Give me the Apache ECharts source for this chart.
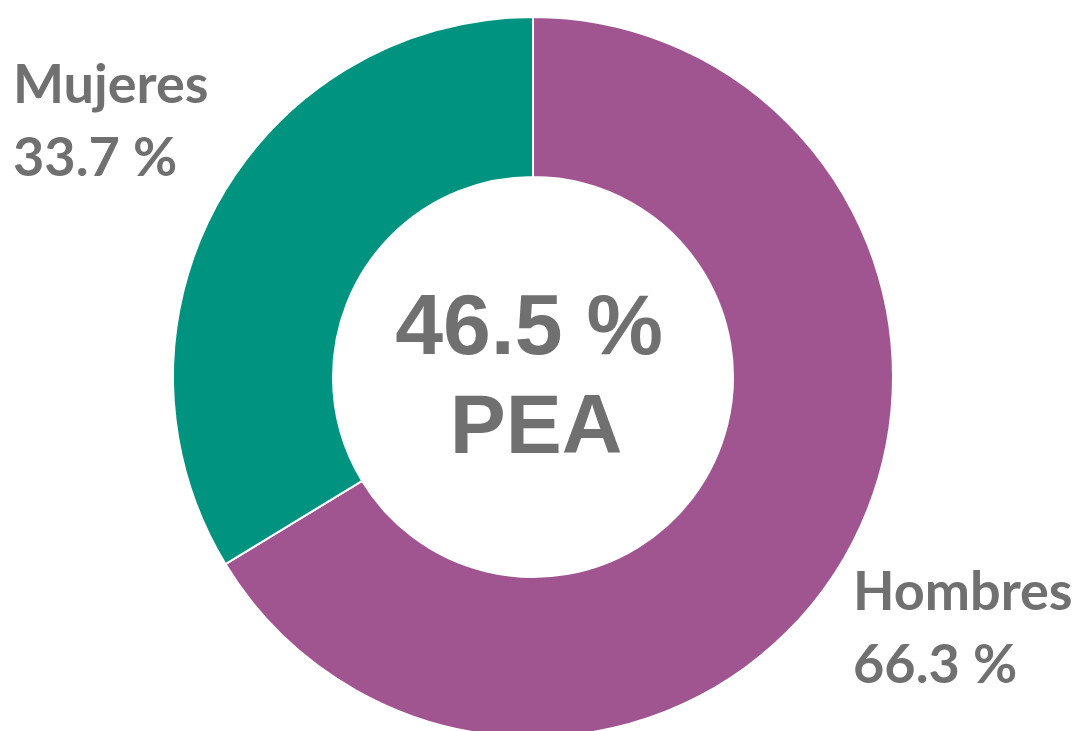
<!DOCTYPE html>
<html>
<head>
<meta charset="utf-8">
<script src="https://cdn.jsdelivr.net/npm/echarts@6/dist/echarts.min.js"></script>
<style>
html,body{margin:0;padding:0;background:#fff;}
#chart{width:1079px;height:731px;}
</style>
</head>
<body>
<div id="chart"></div>
<script>
const categories = ['Hombres', 'Mujeres'];
const shares = [66.3, 33.7];
const sliceColors = ['#A05591', '#009480'];
const centerValue = '46.5 %';
const centerLabel = 'PEA';

const labelPos = [
  {x: 853, y: 556},
  {x: 13, y: 49}
];

const chart = echarts.init(document.getElementById('chart'), null, {renderer: 'canvas'});
chart.setOption({
  animation: false,
  backgroundColor: '#ffffff',
  graphic: [
    {
      type: 'text',
      style: {
        text: centerValue,
        x: 529, y: 280,
        fill: '#707070',
        font: 'bold 86px "Liberation Sans", Arial, sans-serif',
        align: 'center',
        verticalAlign: 'top',
        lineHeight: 100
      }
    },
    {
      type: 'text',
      style: {
        text: centerLabel,
        x: 536, y: 380,
        fill: '#707070',
        font: 'bold 84px "Liberation Sans", Arial, sans-serif',
        align: 'center',
        verticalAlign: 'top',
        lineHeight: 100
      }
    }
  ],
  series: [{
    type: 'pie',
    center: [533, 377],
    radius: [200, 360],
    startAngle: 90,
    clockwise: true,
    itemStyle: {borderColor: '#ffffff', borderWidth: 2},
    label: {
      show: true,
      position: 'outside',
      formatter: '{b}\n{c} %',
      color: '#707070',
      fontFamily: 'Lato',
      fontWeight: 'bold',
      fontSize: 54,
      lineHeight: 73,
      align: 'left',
      overflow: 'none',
      width: 400
    },
    labelLine: {show: false},
    labelLayout: function (params) {
      const p = labelPos[params.dataIndex];
      return {x: p.x, y: p.y, align: 'left', verticalAlign: 'top', hideOverlap: false};
    },
    emphasis: {disabled: true},
    data: categories.map((c, i) => ({name: c, value: shares[i], itemStyle: {color: sliceColors[i]}}))
  }]
});
</script>
</body>
</html>
